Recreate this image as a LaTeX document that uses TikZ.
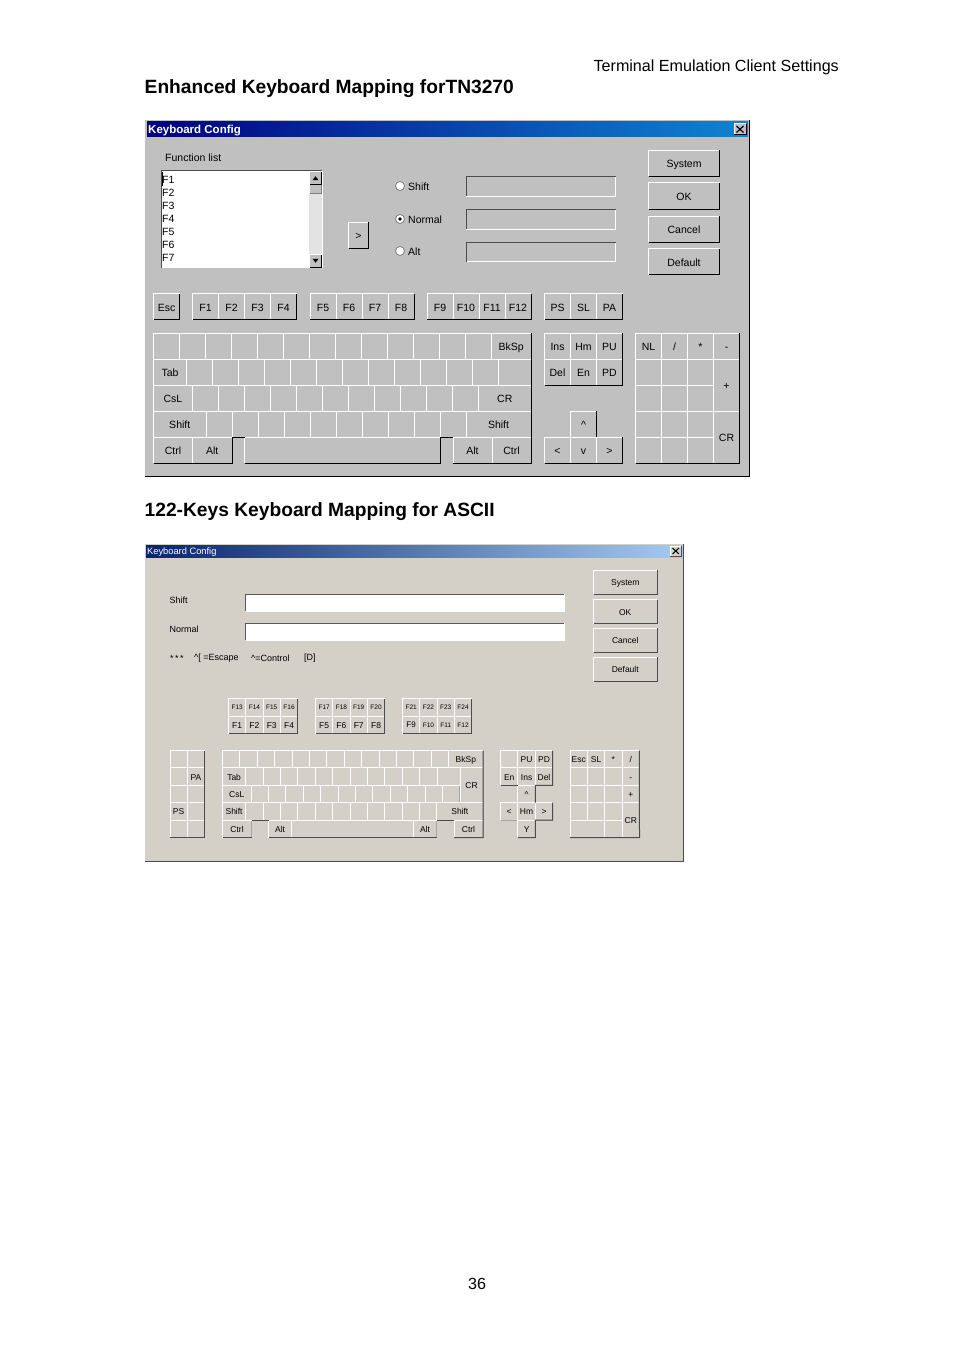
\documentclass[tikz,border=0pt]{standalone}
\usepackage{fontspec}
\setmainfont{Liberation Sans}

\definecolor{faceold}{HTML}{C0C0C0}
\definecolor{facenew}{HTML}{D4D0C8}
\definecolor{shadeline}{HTML}{808080}

\tikzset{
    keycap/.style = {inner sep = 0pt, outer sep = 0pt, text = black, text depth = 0pt},
    keylit/.style = {white, line width = 1pt},
    keyshade/.style = {shadeline, line width = 1pt},
    keyrim/.style = {black, line width = 1pt},
    wellrim/.style = {black!70, line width = 1pt},
    plainlabel/.style = {inner sep = 0pt, anchor = west, text = black, yshift = -0.8pt},
    pagetext/.style = {inner sep = 0pt, text = black, yshift = -0.6pt, font = \fontsize{16.1}{18}\selectfont},
    headline/.style = {inner sep = 0pt, anchor = west, text = black, yshift = -0.8pt, font = \fontsize{19.2}{22}\bfseries\selectfont},
    radiomark/.style = {circle, fill = white, draw = shadeline, line width = 0.8pt, minimum size = 9pt, inner sep = 0pt}
}

% raised key from corner to corner
\newcommand{\keycap}[6]{
    \node[keycap, minimum width = {((#4)-(#2))*1pt}, minimum height = {((#5)-(#3))*1pt}] (#1)
        at ({((#2)+(#4))/2}, {((#3)+(#5))/2}) {#6};
    \draw[keyshade] (#1.south west) -- (#1.south east) -- (#1.north east);
    \draw[keylit] (#1.south west) -- (#1.north west) -- (#1.north east);
}
% sunken field
\newcommand{\wellbox}[6]{
    \node[inner sep = 0pt, outer sep = 0pt, fill = #6, minimum width = {((#4)-(#2))*1pt}, minimum height = {((#5)-(#3))*1pt}] (#1)
        at ({((#2)+(#4))/2}, {((#3)+(#5))/2}) {};
    \draw[keylit] (#1.south west) -- (#1.south east) -- (#1.north east);
    \draw[wellrim] (#1.south west) -- (#1.north west) -- (#1.north east);
}
% row of keys with labels
\newcommand{\keyrow}[6]{
    \foreach \lab [count = \i from 0] in {#6} {
        \pgfmathsetmacro{\xa}{(#2)+\i*(#4)}
        \pgfmathsetmacro{\xb}{\xa+(#4)}
        \keycap{#1\i}{\xa}{#3}{\xb}{(#3)+(#5)}{\lab}
    }
}
% row of empty keys
\newcommand{\keyblanks}[6]{
    \foreach \i in {0,...,#6} {
        \pgfmathsetmacro{\xa}{(#2)+\i*(#4)}
        \pgfmathsetmacro{\xb}{\xa+(#4)}
        \keycap{#1\i}{\xa}{#3}{\xb}{(#3)+(#5)}{}
    }
}
% shadow on right and bottom of a group
\newcommand{\grouprim}[2]{
    \draw[keyrim] (#1.north east) -- (#1.south east) -- (#2.south west);
}

\begin{document}
\begin{tikzpicture}[x = 1pt, y = -1pt]
    \useasboundingbox (0, 0) rectangle (954, 1351);
    \fill[white] (0, 0) rectangle (954, 1351);

    \node[pagetext, anchor = east] (chapter) at (839, 67) {Terminal Emulation Client Settings};
    \node[headline] (headone) at (144.5, 88) {Enhanced Keyboard Mapping forTN3270};
    \node[headline] (headtwo) at (144.5, 511) {122-Keys Keyboard Mapping for ASCII};
    \node[pagetext] (pagenum) at (477, 1283) {36};

    % first dialog
    \begin{scope}[keycap/.append style = {fill = faceold, text height = 9pt, font = \fontsize{10.5}{12}\selectfont},
                  plainlabel/.append style = {font = \fontsize{10.5}{12}\selectfont}]
        \keycap{dlgone}{144.5}{120}{749.5}{476}{}
        \grouprim{dlgone}{dlgone}
        \shade[left color = {rgb,255:red,0;green,0;blue,128}, right color = {rgb,255:red,16;green,132;blue,208}] (147, 122) rectangle (748, 137);
        \node[plainlabel, text = white, font = \fontsize{11.5}{13}\bfseries\selectfont] (titleone) at (148, 129.5) {Keyboard Config};
        \keycap{closeone}{734}{124}{746}{134.5}{}
        \draw[line width = 1.2pt] (736.5, 126) -- (743.5, 132.5) (743.5, 126) -- (736.5, 132.5);
        \grouprim{closeone}{closeone}

        \node[plainlabel] (funclabel) at (165, 157) {Function list};
        \wellbox{funclist}{161}{171}{322}{267.5}{white}
        \foreach \lab [count = \i from 0] in {F1, F2, F3, F4, F5, F6, F7} {
            \node[plainlabel] (func\i) at (162, 179 + 13*\i) {\lab};
        }
        \draw[line width = 1pt] (162.5, 172) -- (162.5, 186);
        \fill[faceold!45!white] (309, 193) rectangle (322, 254);
        \keycap{scrollup}{309.5}{172}{321.5}{184.5}{}
        \keycap{scrollthumb}{309.5}{185}{321.5}{193}{}
        \keycap{scrolldown}{309.5}{254.5}{321.5}{267}{}
        \grouprim{scrollup}{scrollup}
        \grouprim{scrolldown}{scrolldown}
        \fill (scrollup.center) ++(-3, 2) -- ++(6, 0) -- ++(-3, -4) -- cycle;
        \fill (scrolldown.center) ++(-3, -2) -- ++(6, 0) -- ++(-3, 4) -- cycle;

        \keycap{movebtn}{348.5}{222}{368.5}{248}{>}
        \grouprim{movebtn}{movebtn}

        \foreach \name/\lab/\ypos in {shift/Shift/186, normal/Normal/219, alt/Alt/251} {
            \node[radiomark] (radio\name) at (400, \ypos) {};
            \node[plainlabel] (radiolab\name) at (408, \ypos) {\lab};
        }
        \fill (radionormal) circle (1.8);

        \wellbox{fieldshift}{466}{177}{615.5}{196.5}{faceold}
        \wellbox{fieldnormal}{466}{209.5}{615.5}{229}{faceold}
        \wellbox{fieldalt}{466}{242}{615.5}{261.5}{faceold}

        \foreach \name/\lab/\ypos in {system/System/150.5, ok/OK/183, cancel/Cancel/216, default/Default/248.5} {
            \keycap{btn\name}{648.5}{\ypos}{719.5}{\ypos + 26}{\lab}
            \grouprim{btn\name}{btn\name}
        }

        \keyrow{esc}{153.5}{293.5}{26}{26}{Esc}
        \grouprim{esc0}{esc0}
        \keyrow{fa}{192.5}{293.5}{26}{26}{F1, F2, F3, F4}
        \grouprim{fa3}{fa0}
        \keyrow{fb}{310}{293.5}{26}{26}{F5, F6, F7, F8}
        \grouprim{fb3}{fb0}
        \keyrow{fc}{427}{293.5}{26}{26}{F9, F10, F11, F12}
        \grouprim{fc3}{fc0}
        \keyrow{sys}{544.5}{293.5}{26}{26}{PS, SL, PA}
        \grouprim{sys2}{sys0}

        % main block
        \keyblanks{rowa}{153.5}{333}{26}{26}{12}
        \keycap{bksp}{491.5}{333}{531}{359}{BkSp}
        \keycap{tab}{153.5}{359}{186.5}{385}{Tab}
        \keyblanks{rowb}{186.5}{359}{26}{26}{11}
        \keycap{rowbend}{498.5}{359}{531}{385}{}
        \keycap{csl}{153.5}{385}{192.5}{411}{CsL}
        \keyblanks{rowc}{192.5}{385}{26}{26}{10}
        \keycap{crkey}{478.5}{385}{531}{411}{CR}
        \keycap{shiftl}{153.5}{411}{206}{437}{Shift}
        \keyblanks{rowd}{206}{411}{26}{26}{9}
        \keycap{shiftr}{466}{411}{531}{437}{Shift}
        \keycap{ctrll}{153.5}{437}{192.5}{463}{Ctrl}
        \keycap{altl}{192.5}{437}{232}{463}{Alt}
        \keycap{spacebar}{244.5}{437}{440}{463}{}
        \keycap{altr}{453}{437}{492}{463}{Alt}
        \keycap{ctrlr}{492}{437}{531}{463}{Ctrl}
        \draw[keyrim] (bksp.north east) -- (ctrlr.south east) -- (altr.south west);
        \draw[keyrim] (ctrll.south west) -- (altl.south east) -- (altl.north east) -- (spacebar.north west);
        \draw[keyrim] (spacebar.south west) -- (spacebar.south east) -- (spacebar.north east) -- (altr.north west);

        % cursor block
        \keyrow{edita}{544.5}{333}{26}{26}{Ins, Hm, PU}
        \keyrow{editb}{544.5}{359}{26}{26}{Del, En, PD}
        \draw[keyrim] (edita2.north east) -- (editb2.south east) -- (editb0.south west);
        \keycap{arrowup}{570.5}{411}{596.5}{437}{\^{}}
        \keyrow{arrow}{544.5}{437}{26}{26}{<, v, >}
        \draw[keyrim] (arrowup.north east) -- (arrowup.south east);
        \grouprim{arrow2}{arrow0}

        % numeric block
        \keyrow{pada}{635.5}{333}{26}{26}{NL, /, *, -}
        \foreach \rownum in {0, 1, 2, 3} {
            \keyblanks{padb\rownum}{635.5}{359 + 26*\rownum}{26}{26}{2}
        }
        \keycap{padplus}{713.5}{359}{739.5}{411}{+}
        \keycap{padcr}{713.5}{411}{739.5}{463}{CR}
        \draw[keyrim] (pada3.north east) -- (padcr.south east) -- (padb30.south west);
    \end{scope}

    % second dialog
    \begin{scope}[keycap/.append style = {fill = facenew, text height = 7pt, font = \fontsize{8.5}{10}\selectfont},
                  plainlabel/.append style = {font = \fontsize{9}{11}\selectfont},
                  keyshade/.append style = {black!35},
                  keyrim/.append style = {black!70}, wellrim/.append style = {black!65}]
        \keycap{dlgtwo}{144.5}{543.5}{683.5}{861.5}{}
        \grouprim{dlgtwo}{dlgtwo}
        \shade[left color = {rgb,255:red,10;green,36;blue,106}, right color = {rgb,255:red,166;green,202;blue,240}] (146, 545) rectangle (682.5, 557);
        \node[plainlabel, text = white, font = \fontsize{9.3}{11}\selectfont] (titletwo) at (147, 551.5) {Keyboard Config};
        \keycap{closetwo}{670}{546}{681.5}{556}{}
        \draw[line width = 1pt] (672.5, 548) -- (679, 554) (679, 548) -- (672.5, 554);
        \grouprim{closetwo}{closetwo}

        \node[plainlabel] (labshift) at (169.5, 599) {Shift};
        \node[plainlabel] (labnormal) at (169.5, 628.5) {Normal};
        \wellbox{fieldupper}{245.5}{594}{564}{611}{white}
        \wellbox{fieldlower}{245.5}{623}{564}{640}{white}
        \node[plainlabel] (noteone) at (170, 657.5) {*\,*\,*};
        \node[plainlabel] (notetwo) at (194, 657.5) {\^{}[ =Escape};
        \node[plainlabel] (notethree) at (251, 657.5) {\^{}=Control};
        \node[plainlabel] (notefour) at (304, 657.5) {[D]};

        \foreach \name/\lab/\ypos in {system/System/570, ok/OK/599.5, cancel/Cancel/628, default/Default/657} {
            \keycap{alt\name}{593.5}{\ypos}{657}{\ypos + 24}{\lab}
            \grouprim{alt\name}{alt\name}
        }

        % function keys, smaller type on top
        \begin{scope}[keycap/.append style = {text height = 5pt, font = \fontsize{6.5}{8}\selectfont}]
            \keyrow{upa}{228.5}{698.5}{17.3}{17.5}{F13, F14, F15, F16}
            \keyrow{upb}{315.5}{698.5}{17.3}{17.5}{F17, F18, F19, F20}
            \keyrow{upc}{402.5}{698.5}{17.3}{17.5}{F21, F22, F23, F24}
            \keyrow{lowc}{402.5}{716}{17.3}{17.5}{{\fontsize{8}{10}\selectfont F9}, F10, F11, F12}
        \end{scope}
        \keyrow{lowa}{228.5}{716}{17.3}{17.5}{F1, F2, F3, F4}
        \keyrow{lowb}{315.5}{716}{17.3}{17.5}{F5, F6, F7, F8}
        \draw[keyrim] (upa3.north east) -- (lowa3.south east) -- (lowa0.south west);
        \draw[keyrim] (upb3.north east) -- (lowb3.south east) -- (lowb0.south west);
        \draw[keyrim] (upc3.north east) -- (lowc3.south east) -- (lowc0.south west);

        % left block
        \keyblanks{lefta}{170}{750.5}{17.3}{17.4}{1}
        \keyrow{leftb}{170}{767.9}{17.3}{17.4}{{}, PA}
        \keyblanks{leftc}{170}{785.3}{17.3}{17.4}{1}
        \keyrow{leftd}{170}{802.7}{17.3}{17.4}{PS, {}}
        \keyblanks{lefte}{170}{820.1}{17.3}{17.4}{1}
        \draw[keyrim] (lefta1.north east) -- (lefte1.south east) -- (lefte0.south west);

        % main block
        \keyblanks{mida}{222.5}{750.5}{17.4}{17.4}{12}
        \keycap{midbksp}{448.7}{750.5}{483}{767.9}{BkSp}
        \keycap{midtab}{222.5}{767.9}{245.7}{785.3}{Tab}
        \keyblanks{midb}{245.7}{767.9}{17.4}{17.4}{10}
        \keycap{midbend}{437.1}{767.9}{460}{785.3}{}
        \keycap{midcr}{460}{767.9}{483}{802.7}{CR}
        \keycap{midcsl}{222.5}{785.3}{251}{802.7}{CsL}
        \keyblanks{midc}{251}{785.3}{17.4}{17.4}{11}
        \keycap{midshl}{222.5}{802.7}{245.7}{820.1}{Shift}
        \keyblanks{midd}{245.7}{802.7}{17.4}{17.4}{10}
        \keycap{midshr}{436.7}{802.7}{483}{820.1}{Shift}
        \keycap{midctl}{222.5}{820.1}{251.6}{837.5}{Ctrl}
        \keycap{midall}{268.5}{820.1}{291.7}{837.5}{Alt}
        \keycap{midspace}{291.7}{820.1}{413.3}{837.5}{}
        \keycap{midalr}{413.3}{820.1}{436.7}{837.5}{Alt}
        \keycap{midctr}{454}{820.1}{483}{837.5}{Ctrl}
        \draw[keyrim] (midbksp.north east) -- (midctr.south east) -- (midctr.south west);
        \draw[keyrim] (midalr.south east) -- (midall.south west);
        \draw[keyrim] (midctl.south east) -- (midctl.south west);
        \draw[keyrim] (midctl.north east) -- (midall.north west);
        \draw[keyrim] (midalr.north east) -- (midctr.north west);

        % cursor block
        \keyrow{nava}{500.5}{750.5}{17.4}{17.4}{{}, PU, PD}
        \keyrow{navb}{500.5}{767.9}{17.4}{17.4}{En, Ins, Del}
        \keycap{navup}{517.9}{785.3}{535.3}{802.7}{\^{}}
        \keyrow{navc}{500.5}{802.7}{17.4}{17.4}{<, Hm, >}
        \keycap{navdown}{517.9}{820.1}{535.3}{837.5}{Y}
        \draw[keyrim] (nava2.north east) -- (navb2.south east) -- (navup.north east) -- (navup.south east);
        \draw[keyrim] (navc2.north east) -- (navc2.south east) -- (navdown.north east) -- (navdown.south east) -- (navdown.south west);
        \draw[keyrim] (navb0.south west) -- (navb0.south east);

        % numeric block
        \keyrow{numa}{570}{750.5}{17.35}{17.4}{Esc, SL, *, /}
        \keyrow{numb}{570}{767.9}{17.35}{17.4}{{}, {}, {}, -}
        \keyrow{numc}{570}{785.3}{17.35}{17.4}{{}, {}, {}, +}
        \keyblanks{numd}{570}{802.7}{17.35}{17.4}{2}
        \keycap{numwide}{570}{820.1}{604.7}{837.5}{}
        \keycap{numdot}{604.7}{820.1}{622}{837.5}{}
        \keycap{numcr}{622}{802.7}{639.5}{837.5}{CR}
        \draw[keyrim] (numa3.north east) -- (numcr.south east) -- (numwide.south west);
    \end{scope}
\end{tikzpicture}
\end{document}
